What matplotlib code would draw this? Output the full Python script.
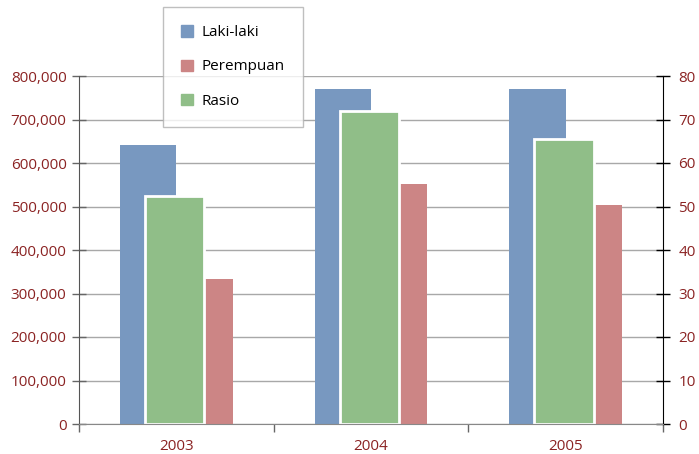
import numpy as np
import matplotlib.pyplot as plt
from matplotlib.patches import Patch
from matplotlib.ticker import FuncFormatter, FixedLocator

plt.rcParams["font.family"] = ["Open Sans", "DejaVu Sans"]

years = ["2003", "2004", "2005"]
laki_laki = [641000, 770000, 770000]
perempuan = [333000, 552000, 503000]
rasio = [52.3, 72.0, 65.5]

BLUE = "#7898c0"
RED = "#cc8585"
GREEN = "#90be88"
LABEL = "#8b2323"
GRID = "#a8a8a8"
FS = 11

x = np.arange(len(years))

fig = plt.figure(figsize=(6.99, 4.54), dpi=100)
ax = fig.add_axes([79 / 699, 30 / 454, 584 / 699, 348 / 454])
ax2 = ax.twinx()

# men / women counts on the left axis, sitting behind the ratio bars
ax.bar(x - 0.29, laki_laki, width=0.29, align="edge", color=BLUE, zorder=2)
ax.bar(x, perempuan, width=0.29, align="edge", color=RED, zorder=2)
# sex ratio on the right axis, outlined in white so it reads as in front
ax2.bar(x - 0.008, rasio, width=0.305, color=GREEN, edgecolor="white",
        linewidth=2, zorder=1)

ax.set_xlim(-0.5, 2.5)
ax.set_ylim(0, 800000)
ax2.set_ylim(0, 80)

ax.set_yticks(np.arange(0, 800001, 100000))
ax.yaxis.set_major_formatter(FuncFormatter(lambda v, p: f"{int(v):,}"))
ax2.set_yticks(np.arange(0, 81, 10))

ax.grid(axis="y", color=GRID, linewidth=1)
ax.set_axisbelow(True)

# category labels centred, tick marks on the boundaries between years
ax.xaxis.set_major_locator(FixedLocator([-0.5, 0.5, 1.5, 2.5]))
ax.xaxis.set_minor_locator(FixedLocator(x))
ax.set_xticklabels([], minor=False)
ax.set_xticklabels(years, minor=True)
ax.tick_params(axis="x", which="major", direction="out", length=6,
               color="#666666", width=1)
ax.tick_params(axis="x", which="minor", length=0, pad=11,
               labelsize=FS, labelcolor=LABEL)

ax.tick_params(axis="y", direction="inout", length=10, color="#666666",
               width=1, labelsize=FS, labelcolor=LABEL, pad=4)
ax2.tick_params(axis="y", direction="inout", length=10, color="black",
                width=1, labelsize=FS, labelcolor=LABEL, pad=6)

for a in (ax, ax2):
    a.spines["top"].set_visible(False)
ax.spines["right"].set_visible(False)
ax.spines["bottom"].set_visible(False)
ax2.spines["left"].set_visible(False)
ax.spines["left"].set_color("#555555")
# baseline drawn on the twin so it sits over the ratio bars' outline
ax2.spines["bottom"].set_color("#888888")
ax2.spines["right"].set_color("black")

handles = [Patch(color=BLUE), Patch(color=RED), Patch(color=GREEN)]
leg = fig.legend(handles, ["Laki-laki", "Perempuan", "Rasio"],
                 loc="upper left", bbox_to_anchor=(163 / 699, 1 - 7 / 454),
                 fontsize=FS, frameon=True, fancybox=False,
                 edgecolor="#b0b0b0", borderpad=1.2, labelspacing=1.25,
                 handlelength=0.75, handleheight=0.75, handletextpad=0.6,
                 borderaxespad=0)
leg.get_frame().set_linewidth(1)

fig.savefig("out.png", dpi=100)
